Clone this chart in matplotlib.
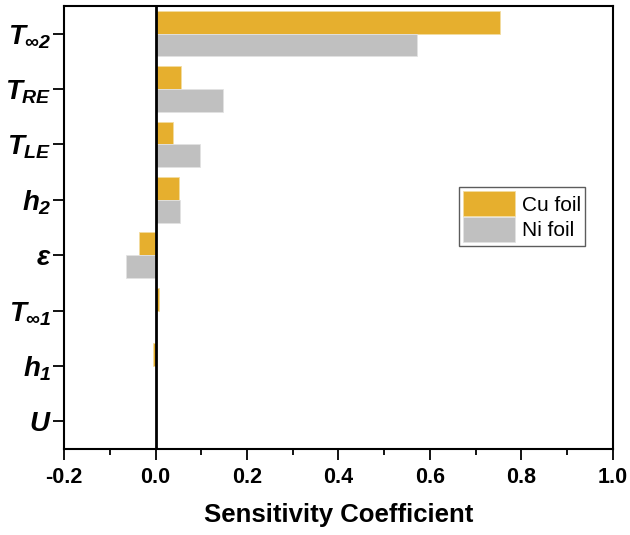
import numpy as np
import matplotlib
matplotlib.use("Agg")
import matplotlib.pyplot as plt
from matplotlib.ticker import MultipleLocator

plt.rcParams['font.family'] = ['Liberation Sans', 'DejaVu Sans']
plt.rcParams['mathtext.fontset'] = 'custom'
plt.rcParams['mathtext.it'] = 'Liberation Sans:italic:bold'
plt.rcParams['mathtext.rm'] = 'Liberation Sans:italic:bold'
plt.rcParams['mathtext.bf'] = 'Liberation Sans:italic:bold'

# parameters, top to bottom
params = [r'$T_{\infty 2}$', r'$T_{RE}$', r'$T_{LE}$', r'$h_{2}$',
          r'$\varepsilon$', r'$T_{\infty 1}$', r'$h_{1}$', r'$U$']
cu_foil = [0.753, 0.055, 0.038, 0.051, -0.035, 0.007, -0.005, 0.0]
ni_foil = [0.571, 0.147, 0.097, 0.053, -0.065, 0.001, 0.0, 0.0]

cu_color = '#E6AF2E'
ni_color = '#C0C0C0'

fig = plt.figure(figsize=(6.3, 5.35), dpi=100)
ax = fig.add_axes([0.1016, 0.1607, 0.8714, 0.8281])

y = np.arange(len(params))
h = 0.41
ax.barh(y - h / 2, cu_foil, height=h, color=cu_color, edgecolor='#f3dca0',
        linewidth=0.6, label='Cu foil', zorder=2)
ax.barh(y + h / 2, ni_foil, height=h, color=ni_color, edgecolor='#e2e2e2',
        linewidth=0.6, label='Ni foil', zorder=2)

ax.axvline(0, color='black', linewidth=2, zorder=3)

ax.set_xlim(-0.2, 1.0)
ax.set_ylim(7.5, -0.5)
ax.set_yticks(y)
ax.set_yticklabels(params, fontsize=20)
ax.xaxis.set_major_locator(MultipleLocator(0.2))
ax.xaxis.set_minor_locator(MultipleLocator(0.1))
ax.set_xticklabels([f'{v:.1f}' for v in ax.get_xticks()])
for lab in ax.get_xticklabels():
    lab.set_fontweight('bold')
    lab.set_fontsize(15.5)

ax.tick_params(axis='y', direction='out', length=8, width=1.3, pad=1)
ax.tick_params(axis='x', which='major', direction='out', length=8, width=1.3, pad=5)
ax.tick_params(axis='x', which='minor', direction='out', length=4, width=1.3)
for s in ax.spines.values():
    s.set_linewidth(1.5)

ax.set_xlabel('Sensitivity Coefficient', fontsize=18.5, fontweight='bold', labelpad=11)

leg = ax.legend(loc='upper left', bbox_to_anchor=(0.7195, 0.591), fontsize=15,
                frameon=True, fancybox=False, edgecolor='#333333',
                handlelength=2.5, handleheight=1.5, labelspacing=0.02,
                borderpad=0.18, handletextpad=0.35, borderaxespad=0)
leg.get_frame().set_linewidth(1.0)

fig.savefig('out.png', dpi=100)
